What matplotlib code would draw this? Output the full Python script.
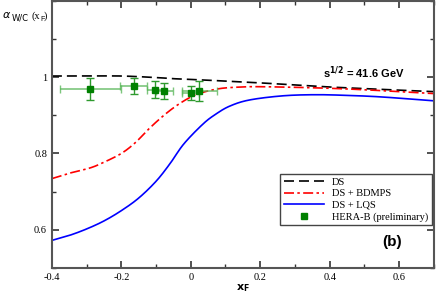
import numpy as np
import matplotlib
matplotlib.use("Agg")
import matplotlib.pyplot as plt
from matplotlib.ticker import MultipleLocator
from matplotlib.lines import Line2D

# model curves
x_ds = [-0.4, -0.3, -0.2, -0.1, -0.05, 0.026, 0.072, 0.2, 0.36, 0.5, 0.7]
y_ds = [1.003, 1.003, 1.003, 0.999, 0.996, 0.993, 0.991, 0.985, 0.976, 0.970, 0.962]

x_bdmps = [-0.4, -0.35, -0.29, -0.25, -0.2, -0.16, -0.12, -0.08, -0.04, 0.0, 0.03,
           0.083, 0.14, 0.2, 0.36, 0.5, 0.7]
y_bdmps = [0.734, 0.748, 0.762, 0.777, 0.800, 0.828, 0.865, 0.898, 0.926, 0.948, 0.959,
           0.970, 0.974, 0.975, 0.972, 0.967, 0.957]

x_lqs = [-0.4, -0.35, -0.3, -0.25, -0.2, -0.15, -0.1, -0.06, -0.02, 0.035, 0.072,
         0.112, 0.168, 0.264, 0.36, 0.456, 0.552, 0.7]
y_lqs = [0.572, 0.585, 0.602, 0.623, 0.650, 0.683, 0.727, 0.773, 0.825, 0.877, 0.903,
         0.924, 0.940, 0.951, 0.954, 0.952, 0.948, 0.938]

# HERA-B preliminary points
hb_x = [-0.289, -0.164, -0.102, -0.076, 0.0, 0.025]
hb_y = [0.969, 0.977, 0.967, 0.964, 0.959, 0.964]
hb_xerr = [0.088, 0.039, 0.024, 0.025, 0.025, 0.051]
hb_yerr = [0.028, 0.021, 0.022, 0.022, 0.019, 0.027]


def smooth(xs, ys, per_seg=30):
    # Catmull-Rom through the read points
    xs = np.asarray(xs, float)
    ys = np.asarray(ys, float)
    px = np.concatenate([[2 * xs[0] - xs[1]], xs, [2 * xs[-1] - xs[-2]]])
    py = np.concatenate([[2 * ys[0] - ys[1]], ys, [2 * ys[-1] - ys[-2]]])
    out_x, out_y = [], []
    t = np.linspace(0, 1, per_seg, endpoint=False)
    for i in range(1, len(px) - 2):
        for arr, out in ((px, out_x), (py, out_y)):
            p0, p1, p2, p3 = arr[i - 1], arr[i], arr[i + 1], arr[i + 2]
            out.extend(0.5 * (2 * p1 + (-p0 + p2) * t
                              + (2 * p0 - 5 * p1 + 4 * p2 - p3) * t ** 2
                              + (-p0 + 3 * p1 - 3 * p2 + p3) * t ** 3))
    out_x.append(xs[-1])
    out_y.append(ys[-1])
    return out_x, out_y


fig = plt.figure(figsize=(4.36, 2.95), dpi=100)
ax = fig.add_axes([0.119, 0.092, 0.876, 0.905])

xx, yy = smooth(x_ds, y_ds)
ax.plot(xx, yy, color="black", lw=1.2, dashes=(6, 3))
xx, yy = smooth(x_bdmps, y_bdmps)
ax.plot(xx, yy, color="red", lw=1.2, dashes=(6, 2, 1.5, 2))
xx, yy = smooth(x_lqs, y_lqs)
ax.plot(xx, yy, color="blue", lw=1.2)

ax.errorbar(hb_x, hb_y, xerr=hb_xerr, fmt="none",
            ecolor="#5cb85c", elinewidth=1.2, capsize=3, alpha=0.8)
ax.errorbar(hb_x, hb_y, yerr=hb_yerr, fmt="s", color="#008000", ms=4,
            ecolor="#2e9a2e", elinewidth=1.0, capsize=3)

ax.set_xlim(-0.4, 0.7)
ax.set_ylim(0.5, 1.2)
ax.set_xticks([-0.4, -0.2, 0, 0.2, 0.4, 0.6])
ax.set_xticklabels(["-0.4", "-0.2", "0", "0.2", "0.4", "0.6"])
ax.set_yticks([0.6, 0.8, 1.0])
ax.set_yticklabels(["0.6", "0.8", "1"])
ax.xaxis.set_minor_locator(MultipleLocator(0.1))
ax.yaxis.set_minor_locator(MultipleLocator(0.1))
ax.tick_params(which="both", direction="in", top=True, right=True,
               colors="#333333", labelcolor="black")
ax.tick_params(which="major", length=5, width=1.2)
ax.tick_params(which="minor", length=3, width=1.0)
for lab in ax.get_xticklabels() + ax.get_yticklabels():
    lab.set_fontfamily("Liberation Serif")
    lab.set_fontsize(7.5)
for sp in ax.spines.values():
    sp.set_linewidth(1.5)
    sp.set_color("#555555")

ax.set_xlabel(r"$\mathbf{x}_{\mathbf{F}}$", fontsize=8, labelpad=0)
fig.text(0.005, 0.938, r"$\alpha$", fontsize=8, family="Liberation Serif")
fig.text(0.027, 0.930, "W/C", fontsize=6, family="DejaVu Sans")
fig.text(0.072, 0.938, "(x", fontsize=7.5, family="Liberation Serif")
fig.text(0.092, 0.930, "F", fontsize=5, family="Liberation Sans")
fig.text(0.101, 0.938, ")", fontsize=7.5, family="Liberation Serif")

ax.text(0.38, 1.012, r"s$^{\mathbf{1/2}}$ = 41.6 GeV", fontsize=8,
        fontweight="bold", family="Liberation Sans", va="center")
ax.text(0.58, 0.568, "(b)", fontsize=11, fontweight="bold",
        family="Liberation Sans", va="center", ha="center")

handles = [
    Line2D([], [], color="black", lw=1.2, dashes=(6, 3)),
    Line2D([], [], color="red", lw=1.2, dashes=(6, 2, 1.5, 2)),
    Line2D([], [], color="blue", lw=1.2),
    Line2D([], [], color="#008000", marker="s", ms=4, ls="none"),
]
labels = ["DS", "DS + BDMPS", "DS + LQS", "HERA-B (preliminary)"]
leg = ax.legend(handles, labels, loc="upper right", bbox_to_anchor=(1.0, 0.36),
                prop={"family": "Liberation Serif", "size": 7.5},
                handlelength=3.8, borderpad=0.35, labelspacing=0.22,
                handletextpad=0.8, fancybox=False, framealpha=1,
                edgecolor="#444444", borderaxespad=0.2)
leg.get_frame().set_linewidth(1.0)

fig.savefig("out.png", dpi=100)
